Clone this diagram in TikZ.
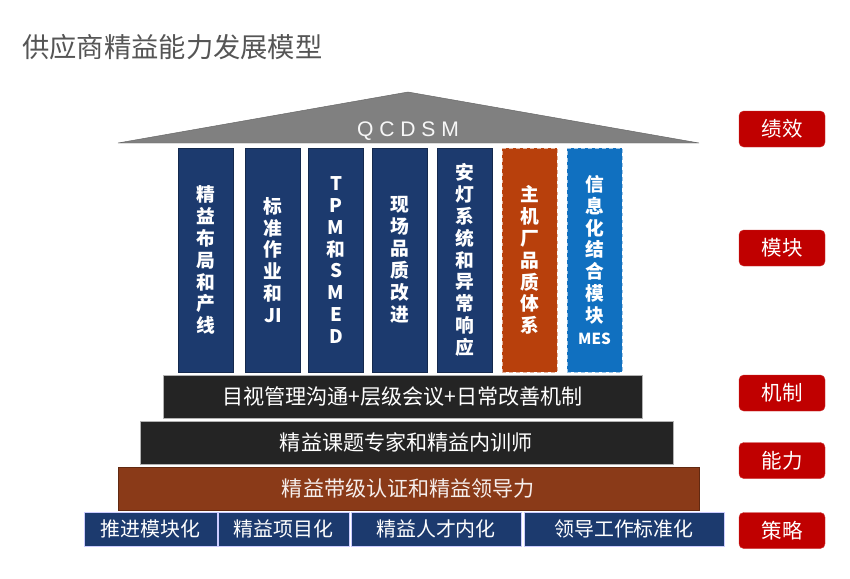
\documentclass[tikz,border=0pt]{standalone}
\usepackage{fontspec}
\setmainfont{Liberation Sans}
\newfontfamily\cjk{Noto Sans CJK SC}
\usepackage{tikz}

\definecolor{navy}{RGB}{28,58,110}
\definecolor{rust}{RGB}{184,64,12}
\definecolor{sky}{RGB}{16,112,192}
\definecolor{coal}{RGB}{36,36,36}
\definecolor{brick}{RGB}{138,58,24}
\definecolor{tagred}{RGB}{192,0,0}
\definecolor{roofgray}{RGB}{128,128,128}
\definecolor{titlegray}{RGB}{85,85,85}

\begin{document}
\begin{tikzpicture}[x=0.03cm, y=-0.03cm, line width=0.4pt,
    box/.style 2 args={minimum width={#1*0.03cm}, minimum height={#2*0.03cm}, inner sep=0pt, outer sep=0pt},
    pillar/.style={box={55}{224}, fill=navy, draw=navy!70!black, text=white, align=center,
                   font=\cjk\bfseries\fontsize{16}{18.7}\selectfont},
    dashpillar/.style={pillar, fill=#1, draw=white!60!#1, dashed},
    bar/.style={fill=coal, draw=gray!60, text=white, font=\cjk\fontsize{18}{18}\selectfont},
    plate/.style={fill=navy, draw=blue!20, text=white, box={#1}{34}, font=\cjk\fontsize{17}{17}\selectfont},
    tag/.style={box={86}{36}, fill=tagred, draw=tagred!80!white, rounded corners=4pt, text=white,
                font=\cjk\fontsize{17.5}{17.5}\selectfont}]

    \fill[white] (0,0) rectangle (850,578);
    \useasboundingbox (0,0) rectangle (850,578);

    \node(title) [anchor=west, text=titlegray, inner sep=0pt, font=\cjk\fontsize{23.3}{23.3}\selectfont]
        at (22,47) {供应商精益能力发展模型};

    \coordinate(roofL) at (118,143);
    \coordinate(roofT) at (408,92);
    \coordinate(roofR) at (699,143);
    \draw[fill=roofgray, draw=gray!80!black] (roofL) -- (roofT) -- (roofR) -- cycle;
    \node(qcdsm) [text=white!94!gray, font=\fontsize{18}{18}\selectfont] at (408,131) {Q C D S M};

    \node(p1) [pillar] at (205.5,260) {精\\益\\布\\局\\和\\产\\线};
    \node(p2) [pillar] at (273,260)   {标\\准\\作\\业\\和\\JI};
    \node(p3) [pillar] at (336,260)   {T\\P\\M\\和\\S\\M\\E\\D};
    \node(p4) [pillar] at (400,260)   {现\\场\\品\\质\\改\\进};
    \node(p5) [pillar] at (464.5,260) {安\\灯\\系\\统\\和\\异\\常\\响\\应};
    \node(p6) [dashpillar=rust] at (529.5,260) {主\\机\\厂\\品\\质\\体\\系};
    \node(p7) [dashpillar=sky]  at (594.5,260) {信\\息\\化\\结\\合\\模\\块\\{\fontsize{13}{18.7}\selectfont MES}};

    \node(mech)  [bar, box={479}{43}] at (402.5,396.5) {目视管理沟通+层级会议+日常改善机制};
    \node(skill) [bar, box={533}{43}] at (406.5,442.5) {精益课题专家和精益内训师};
    \node(lead)  [bar, box={581}{43}, fill=brick, draw=brick!70!black, text=white!92!brick] at (408.5,488.5)
        {精益带级认证和精益领导力};

    \node(s1) [plate=133] at (150.5,529) {推进模块化};
    \node(s2) [plate=131] at (283.5,529) {精益项目化};
    \node(s3) [plate=170] at (436,529)   {精益人才内化};
    \node(s4) [plate=200] at (624,529)   {领导工作标准化};

    \node(kpi)   [tag] at (782,129)   {绩效};
    \node(mod)   [tag] at (782,248)   {模块};
    \node(rule)  [tag] at (782,393)   {机制};
    \node(power) [tag] at (782,460.5) {能力};
    \node(plan)  [tag] at (782,530.5) {策略};
\end{tikzpicture}
\end{document}
